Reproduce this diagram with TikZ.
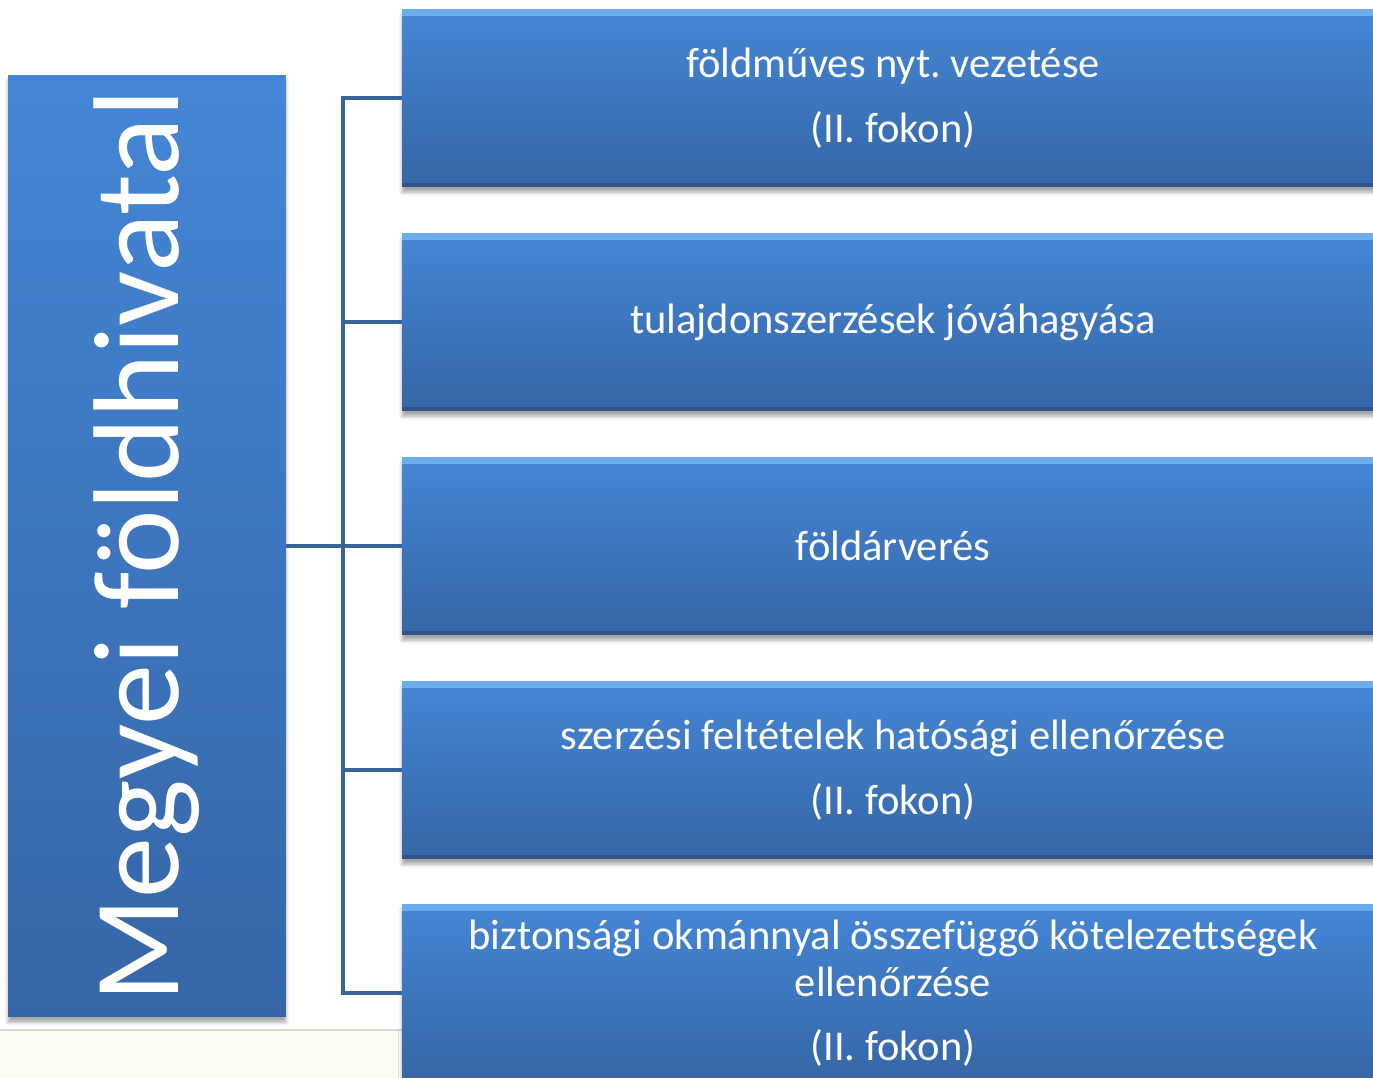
\documentclass[tikz,border=0pt]{standalone}
\usepackage{fontspec}
\setmainfont{Carlito}
\usetikzlibrary{positioning,calc,shadows.blur}
\frenchspacing
\definecolor{boxtop}{RGB}{68,134,214}
\definecolor{boxbot}{RGB}{54,102,166}
\definecolor{boxhi}{RGB}{110,172,240}
\definecolor{boxlo}{RGB}{44,82,136}
\definecolor{busblue}{RGB}{58,100,152}
\definecolor{slideline}{RGB}{216,216,204}
\definecolor{slidebg}{RGB}{253,253,246}
\tikzset{
  bluebox/.style={rectangle, inner sep=0pt, top color=boxtop, bottom color=boxbot,
    text=white, align=center,
    blur shadow={shadow xshift=0pt, shadow yshift=-3pt, shadow blur steps=6, shadow opacity=35},
    path picture={
      \fill[boxhi] (path picture bounding box.north west) rectangle ([yshift=-4pt]path picture bounding box.north east);
      \fill[boxlo] (path picture bounding box.south west) rectangle ([yshift=2pt]path picture bounding box.south east);
    }},
  taskbox/.style={bluebox, minimum width=19.64cm, minimum height=3.56cm,
    font=\fontsize{24.2}{26.7}\selectfont},
  busline/.style={busblue, line width=2.2pt}
}

\begin{document}
\begin{tikzpicture}[x=0.02cm,y=-0.02cm]
  \useasboundingbox (0,0) rectangle (1373,1078);
  \fill[slidebg] (0,1030) rectangle (402,1078);
  \draw[slideline, line width=1pt] (0,1030) -- (402,1030);

  \node[bluebox, minimum width=18.84cm, minimum height=5.56cm, rotate=90,
        font=\fontsize{69.5}{75}\selectfont] (main) at (147,546) {Megyei földhivatal};

  \node[taskbox] (b1) at (893,98) {földműves nyt. vezetése\\[10pt](II. fokon)};
  \node[taskbox] (b2) at (893,322) {tulajdonszerzések jóváhagyása};
  \node[taskbox] (b3) at (893,546) {földárverés};
  \node[taskbox] (b4) at (893,770) {szerzési feltételek hatósági ellenőrzése\\[10pt](II. fokon)};
  \node[taskbox] (b5) at (893,993) {biztonsági okmánnyal összefüggő kötelezettségek\\ellenőrzése\\[10pt](II. fokon)};

  % connectors
  \coordinate (top) at ($(b1.west)+(-59,0)$);
  \draw[busline] (b1.west) -- (top) |- (b5.west);
  \foreach \b in {b2,b3,b4}
    \draw[busline] (\b.west) -- (\b.west -| top);
  \draw[busline] (main.south) -- (main.south -| top);
\end{tikzpicture}
\end{document}
